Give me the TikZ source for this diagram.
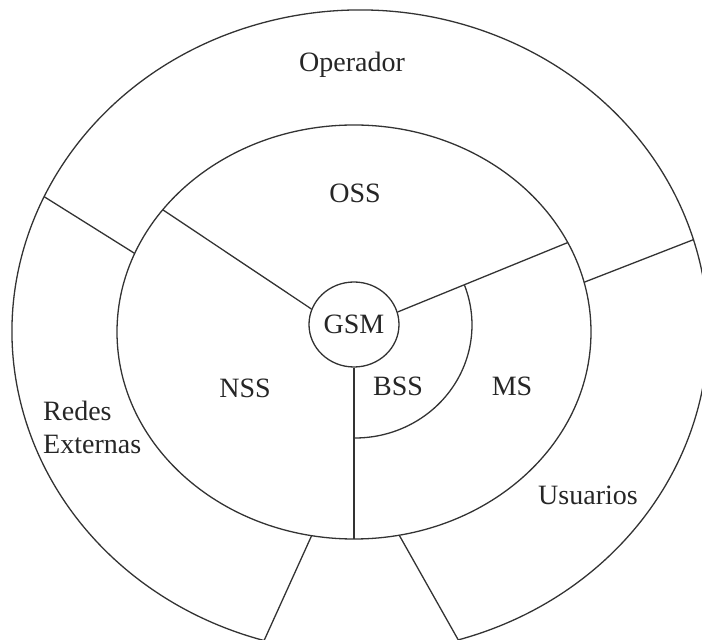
\documentclass[tikz,border=0pt]{standalone}
\usepackage{fontspec}
\setmainfont{Liberation Serif}
\usetikzlibrary{shapes.geometric,calc}
\begin{document}
\begin{tikzpicture}[x=1pt,y=1pt,
  ln/.style={line width=1.3pt,draw=black!80},
  lbl/.style={font=\fontsize{28}{33}\selectfont,text=black!85,inner sep=0pt}]
\useasboundingbox (0,0) rectangle (702,640);
% centres
\coordinate (mc) at (354,308);
\coordinate (oc) at (360,308.5);
\coordinate (bc) at (355,315);
% GSM core
\node[ellipse,ln,lbl,minimum width=90pt,minimum height=85pt] (gsm) at (354,315.5) {GSM};
% middle ring
\draw[ln] (mc) ellipse [x radius=237, y radius=207];
\coordinate (a0) at ($(mc)+(270:237 and 207)$);
\coordinate (a1) at ($(mc)+(143.8:237 and 207)$);
\coordinate (a2) at ($(mc)+(157.7:237 and 207)$);
\coordinate (a3) at ($(mc)+(25.6:237 and 207)$);
\coordinate (a4) at ($(mc)+(13.9:237 and 207)$);
\coordinate (a5) at ($(mc)+(259.7:237 and 207)$);
\coordinate (a6) at ($(mc)+(281:237 and 207)$);
% outer ring points
\coordinate (b2) at ($(oc)+(155.2:348 and 321.5)$);
\coordinate (b4) at ($(oc)+(16.6:348 and 321.5)$);
\coordinate (b5) at ($(oc)+(254:348 and 321.5)$);
\coordinate (b6) at ($(oc)+(-73.6:348 and 321.5)$);
% outer open ring
\draw[ln] (b6) arc[start angle=-73.6, end angle=254, x radius=348, y radius=321.5];
% separators
\draw[ln] (gsm.160) -- (a1);
\draw[ln] (gsm.16) -- (a3);
\draw[ln] (gsm.south) -- (a0);
\draw[ln] (a2) -- (b2);
\draw[ln] (a4) -- (b4);
\draw[ln] (a5) -- (b5);
\draw[ln] (a6) -- (b6);
% BSS arc
\coordinate (s1) at ($(bc)+(20.6:117 and 113)$);
\draw[ln] (s1) arc[start angle=20.6, end angle=-90, x radius=117, y radius=113];
% labels
\node[lbl] (operador) at (352,575) {Operador};
\node[lbl] (oss) at (355,447) {OSS};
\node[lbl] (nss) at (245,252) {NSS};
\node[lbl] (bss) at (398,254) {BSS};
\node[lbl] (ms) at (512,254) {MS};
\node[lbl,align=left,anchor=west] (redes) at (43,213) {Redes\\Externas};
\node[lbl] (usuarios) at (588,145) {Usuarios};
\end{tikzpicture}
\end{document}
